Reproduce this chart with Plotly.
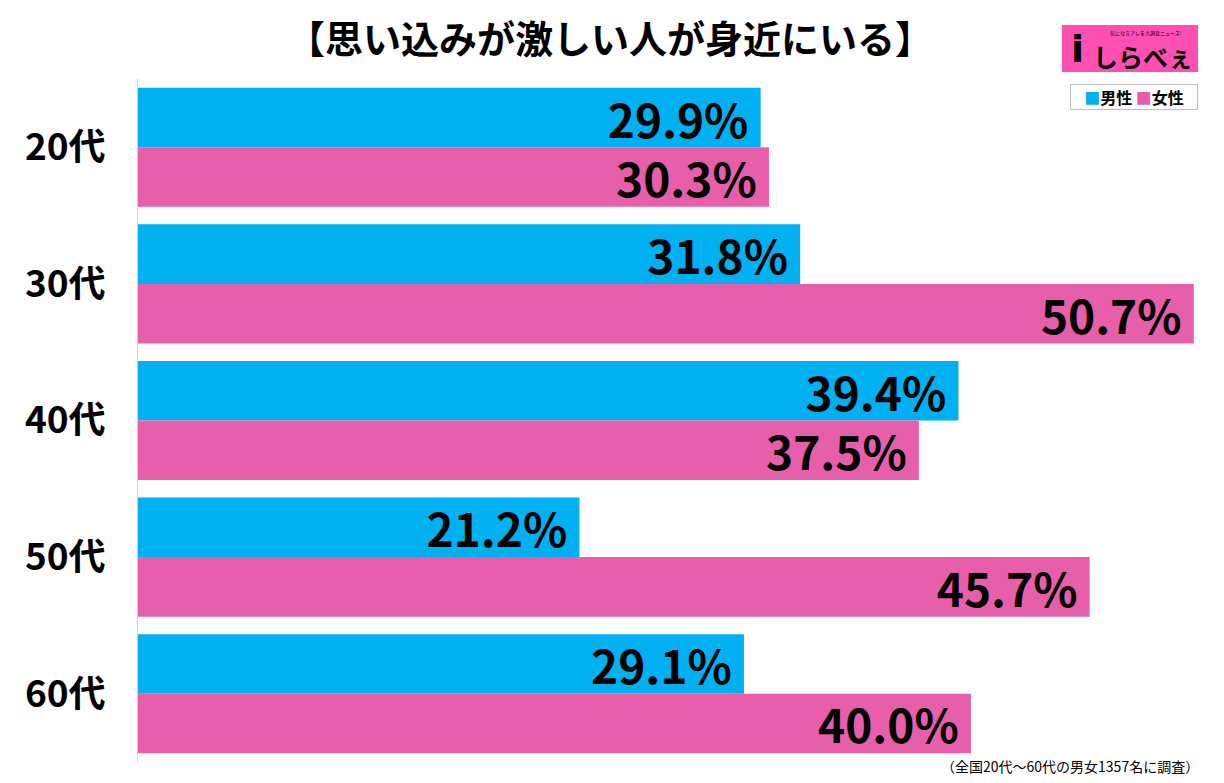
import plotly.graph_objects as go

# 【思い込みが激しい人が身近にいる】 しらべぇ調査
categories = ['20代', '30代', '40代', '50代', '60代']
male = [29.9, 31.8, 39.4, 21.2, 29.1]
female = [30.3, 50.7, 37.5, 45.7, 40.0]

title = '【思い込みが激しい人が身近にいる】'
note = '（全国20代～60代の男女1357名に調査）'

# the page has an 8px body margin, so the figure is 8px smaller than the window
OFF = 8
W, H = 1224 - OFF, 783 - OFF
L, R, T, B = 138 - OFF, 24, 79 - OFF, 21
JP = 'Noto Sans CJK JP'
BLUE, PINK = '#00B0F0', '#E75FAB'


def px(x):
    # page pixel -> paper x
    return (x - OFF - L) / (W - L - R)


def py(y):
    # page pixel -> paper y
    return (H - B - (y - OFF)) / (H - T - B)


fig = go.Figure()
fig.add_trace(go.Bar(
    y=categories, x=male, name='男性', orientation='h',
    marker=dict(color=BLUE, line=dict(width=0)),
    text=[f'{v:.1f}%\u2009' for v in male],
))
fig.add_trace(go.Bar(
    y=categories, x=female, name='女性', orientation='h',
    marker=dict(color=PINK, line=dict(width=0)),
    text=[f'{v:.1f}%\u2009' for v in female],
))
fig.update_traces(
    textposition='inside', insidetextanchor='end', constraintext='none',
    textfont=dict(family=JP, size=46, color='black', weight='bold'),
)

fig.update_layout(
    width=W, height=H,
    margin=dict(l=L, r=R, t=T, b=B, autoexpand=False),
    plot_bgcolor='white', paper_bgcolor='white',
    barmode='group', bargap=0.128, bargroupgap=0,
    font=dict(family=JP, color='black'),
    title=dict(text=title, xref='container', yref='container',
               x=(610 - OFF) / W, y=1 - (40 - OFF) / H,
               xanchor='center', yanchor='middle',
               font=dict(size=38, family=JP, color='black', weight='bold')),
    xaxis=dict(range=[0, 51], visible=False, fixedrange=True),
    yaxis=dict(autorange='reversed', showline=True, linecolor='#d0d0d0',
               linewidth=1, ticks='', ticklabelstandoff=24,
               tickfont=dict(size=37, family=JP, color='black', weight='bold')),
    showlegend=False,
)

# legend box
fig.add_annotation(
    text=(f'<span style="color:{BLUE}">■</span>男性 '
          f'<span style="color:{PINK}">■</span>女性'),
    xref='paper', yref='paper', x=px(1134), y=py(97),
    xanchor='center', yanchor='middle', showarrow=False,
    bordercolor='#bfbfbf', borderwidth=1, borderpad=2, bgcolor='white',
    width=122, height=20,
    font=dict(size=16, family=JP, color='black', weight='bold'))

# logo
fig.add_shape(type='rect', xref='paper', yref='paper',
              x0=px(1062), x1=px(1198), y0=py(72), y1=py(25),
              fillcolor='#FF4FB3', line=dict(width=0), layer='above')
fig.add_annotation(text='しらべぇ', xref='paper', yref='paper',
                   x=px(1143), y=py(56), xanchor='center', yanchor='middle',
                   showarrow=False,
                   font=dict(size=25, family=JP, color='black', weight='bold'))
fig.add_annotation(text='気になるアレを大調査ニュース!', xref='paper', yref='paper',
                   x=px(1146), y=py(33), xanchor='center', yanchor='middle',
                   showarrow=False, font=dict(size=5, family=JP, color='black'))
fig.add_annotation(text='i', xref='paper', yref='paper',
                   x=px(1077), y=py(49), xanchor='center', yanchor='middle',
                   showarrow=False,
                   font=dict(size=38, family='DejaVu Sans', color='black',
                             weight='bold'))

fig.add_annotation(text=note, xref='paper', yref='paper',
                   x=px(1201), y=py(766), xanchor='right', yanchor='middle',
                   showarrow=False, font=dict(size=14, family=JP, color='black'))

fig.write_html('out.html')
